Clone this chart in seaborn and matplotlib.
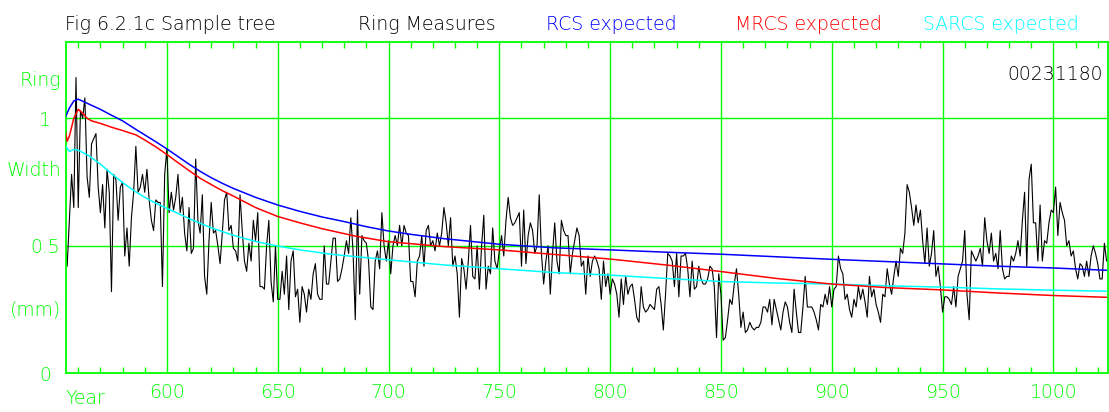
import numpy as np
import pandas as pd
import matplotlib
matplotlib.use("Agg")
import matplotlib.pyplot as plt
from matplotlib import transforms
import seaborn as sns

# ---- data -------------------------------------------------------------
first_year = 554
ring_width = [
    0.56, 0.42, 0.60, 0.78, 0.65, 1.16,
    0.65, 1.03, 1.00, 1.08, 0.77, 0.69, 0.90, 0.92, 0.94, 0.73,
    0.63, 0.74, 0.57, 0.80, 0.71, 0.32, 0.78, 0.76, 0.60, 0.73,
    0.75, 0.46, 0.57, 0.42, 0.61, 0.71, 0.89, 0.71, 0.73, 0.78,
    0.71, 0.80, 0.68, 0.60, 0.56, 0.68, 0.67, 0.67, 0.34, 0.78,
    0.88, 0.63, 0.71, 0.64, 0.69, 0.78, 0.63, 0.69, 0.55, 0.48,
    0.65, 0.47, 0.49, 0.84, 0.60, 0.55, 0.70, 0.38, 0.31, 0.52,
    0.67, 0.55, 0.56, 0.50, 0.43, 0.55, 0.68, 0.71, 0.56, 0.58,
    0.49, 0.48, 0.44, 0.70, 0.56, 0.44, 0.40, 0.51, 0.44, 0.60,
    0.52, 0.63, 0.34, 0.34, 0.33, 0.50, 0.60, 0.36, 0.28, 0.50,
    0.29, 0.29, 0.40, 0.31, 0.46, 0.25, 0.44, 0.48, 0.30, 0.33,
    0.20, 0.34, 0.31, 0.24, 0.33, 0.29, 0.39, 0.43, 0.31, 0.29,
    0.29, 0.50, 0.35, 0.35, 0.44, 0.53, 0.53, 0.36, 0.37, 0.41,
    0.46, 0.52, 0.47, 0.61, 0.48, 0.21, 0.64, 0.31, 0.54, 0.52,
    0.51, 0.44, 0.26, 0.25, 0.44, 0.48, 0.41, 0.63, 0.50, 0.44,
    0.52, 0.39, 0.50, 0.54, 0.50, 0.58, 0.50, 0.58, 0.55, 0.54,
    0.36, 0.36, 0.30, 0.44, 0.46, 0.54, 0.42, 0.56, 0.58, 0.50,
    0.52, 0.48, 0.55, 0.50, 0.55, 0.65, 0.59, 0.50, 0.61, 0.42,
    0.46, 0.39, 0.22, 0.45, 0.41, 0.33, 0.44, 0.58, 0.38, 0.37,
    0.50, 0.33, 0.50, 0.62, 0.33, 0.42, 0.39, 0.57, 0.44, 0.41,
    0.48, 0.54, 0.46, 0.60, 0.69, 0.61, 0.58, 0.59, 0.61, 0.63,
    0.42, 0.64, 0.43, 0.54, 0.59, 0.56, 0.47, 0.50, 0.70, 0.47,
    0.35, 0.44, 0.50, 0.31, 0.47, 0.59, 0.44, 0.39, 0.60, 0.56,
    0.54, 0.54, 0.39, 0.47, 0.52, 0.57, 0.54, 0.42, 0.44, 0.31,
    0.46, 0.38, 0.44, 0.46, 0.44, 0.41, 0.29, 0.44, 0.34, 0.39,
    0.31, 0.37, 0.35, 0.31, 0.22, 0.37, 0.27, 0.38, 0.31, 0.34,
    0.35, 0.29, 0.22, 0.20, 0.34, 0.26, 0.24, 0.25, 0.27, 0.26,
    0.25, 0.33, 0.34, 0.27, 0.17, 0.31, 0.47, 0.46, 0.44, 0.34,
    0.47, 0.30, 0.46, 0.46, 0.47, 0.41, 0.30, 0.44, 0.33, 0.34,
    0.42, 0.37, 0.35, 0.35, 0.37, 0.42, 0.41, 0.34, 0.14, 0.39,
    0.31, 0.13, 0.14, 0.21, 0.29, 0.27, 0.35, 0.41, 0.31, 0.18,
    0.24, 0.16, 0.17, 0.20, 0.18, 0.17, 0.18, 0.18, 0.20, 0.26,
    0.26, 0.24, 0.29, 0.19, 0.29, 0.25, 0.21, 0.17, 0.24, 0.28,
    0.26, 0.20, 0.16, 0.33, 0.24, 0.16, 0.16, 0.26, 0.38, 0.26,
    0.26, 0.26, 0.24, 0.21, 0.17, 0.27, 0.26, 0.31, 0.27, 0.34,
    0.26, 0.33, 0.34, 0.46, 0.41, 0.39, 0.29, 0.31, 0.25, 0.22,
    0.29, 0.26, 0.34, 0.29, 0.33, 0.28, 0.22, 0.38, 0.30, 0.33,
    0.27, 0.24, 0.20, 0.31, 0.30, 0.41, 0.35, 0.31, 0.38, 0.44,
    0.38, 0.49, 0.47, 0.55, 0.74, 0.71, 0.65, 0.58, 0.66, 0.59,
    0.64, 0.52, 0.43, 0.57, 0.42, 0.47, 0.56, 0.38, 0.42, 0.34,
    0.24, 0.30, 0.30, 0.29, 0.27, 0.34, 0.26, 0.38, 0.41, 0.44,
    0.56, 0.31, 0.21, 0.48, 0.46, 0.44, 0.46, 0.49, 0.42, 0.61,
    0.52, 0.47, 0.55, 0.44, 0.47, 0.41, 0.56, 0.41, 0.37, 0.38,
    0.38, 0.46, 0.44, 0.47, 0.52, 0.46, 0.60, 0.71, 0.42, 0.76,
    0.82, 0.59, 0.59, 0.44, 0.66, 0.44, 0.52, 0.51, 0.59, 0.64,
    0.63, 0.73, 0.54, 0.67, 0.63, 0.60, 0.50, 0.52, 0.46, 0.48,
    0.41, 0.37, 0.43, 0.42, 0.38, 0.44, 0.38, 0.46, 0.50, 0.47,
    0.43, 0.37, 0.37, 0.51, 0.44,
]
years = np.arange(first_year, first_year + len(ring_width))

# expected growth curves (regional curve standardisation variants)
rcs_years = [554, 556, 558, 560, 565, 570, 575, 580, 585, 590, 595, 600, 605,
             610, 615, 620, 625, 630, 640, 650, 660, 670, 680, 690, 700, 710,
             725, 750, 775, 800, 825, 850, 875, 900, 925, 950, 975, 1000, 1024]
rcs_expected = [1.00, 1.04, 1.068, 1.075, 1.055, 1.035, 1.012, 0.99, 0.962,
                0.935, 0.908, 0.88, 0.85, 0.82, 0.792, 0.767, 0.745, 0.725,
                0.69, 0.66, 0.635, 0.613, 0.595, 0.575, 0.558, 0.545, 0.528,
                0.506, 0.492, 0.484, 0.475, 0.467, 0.457, 0.447, 0.438, 0.429,
                0.42, 0.413, 0.404]

mrcs_years = [554, 555, 556, 558, 560, 562, 564, 566, 570, 575, 580, 586, 590,
              595, 600, 605, 610, 615, 620, 625, 630, 640, 650, 660, 670, 685,
              700, 725, 750, 775, 800, 825, 850, 875, 900, 925, 950, 975, 1000,
              1024]
mrcs_expected = [0.96, 0.91, 0.93, 1.00, 1.035, 1.02, 1.00, 0.99, 0.98, 0.965,
                 0.952, 0.935, 0.915, 0.888, 0.858, 0.826, 0.795, 0.765, 0.74,
                 0.716, 0.695, 0.65, 0.615, 0.59, 0.567, 0.538, 0.516, 0.497,
                 0.484, 0.466, 0.448, 0.425, 0.399, 0.372, 0.350, 0.336, 0.327,
                 0.315, 0.305, 0.298]

sarcs_years = [554, 556, 558, 560, 565, 570, 575, 580, 585, 590, 595, 600, 605,
               610, 615, 620, 630, 640, 650, 660, 675, 700, 725, 750, 775, 800,
               825, 850, 875, 900, 925, 950, 975, 1000, 1024]
sarcs_expected = [0.895, 0.87, 0.878, 0.875, 0.852, 0.82, 0.783, 0.748, 0.717,
                  0.69, 0.667, 0.647, 0.627, 0.607, 0.588, 0.571, 0.541, 0.517,
                  0.499, 0.484, 0.466, 0.445, 0.425, 0.41, 0.395, 0.385, 0.372,
                  0.36, 0.354, 0.35, 0.343, 0.338, 0.331, 0.326, 0.322]

year_ticks = [600, 650, 700, 750, 800, 850, 900, 950, 1000]
width_ticks = [0, 0.5, 1]
width_tick_labels = ["0", "0.5", "1"]

# ---- styling ------------------------------------------------------------
sns.set_style("white")
plt.rcParams["font.family"] = ["DejaVu Sans"]
plt.rcParams["font.weight"] = 200
GREEN = "#00ff00"
FS = 13.6

W, H = 1109, 412
fig = plt.figure(figsize=(W / 100, H / 100), dpi=100)
ax = fig.add_axes([65.6 / W, 1 - 373.3 / H, (1107.7 - 65.6) / W, (373.3 - 42.3) / H])

ring_df = pd.DataFrame({"year": years, "width": ring_width})
rcs_df = pd.DataFrame({"year": rcs_years, "width": rcs_expected})
mrcs_df = pd.DataFrame({"year": mrcs_years, "width": mrcs_expected})
sarcs_df = pd.DataFrame({"year": sarcs_years, "width": sarcs_expected})

# grid first so the curves sit on top
for yr in year_ticks:
    ax.axvline(yr, color=GREEN, lw=1.0, zorder=0)
for v in [0.5, 1.0]:
    ax.axhline(v, color=GREEN, lw=1.0, zorder=0)

sns.lineplot(data=ring_df, x="year", y="width", ax=ax, color="black",
             lw=0.8, estimator=None, sort=False, zorder=2)
sns.lineplot(data=sarcs_df, x="year", y="width", ax=ax, color="#00ffff",
             lw=1.1, estimator=None, sort=False, zorder=3)
sns.lineplot(data=mrcs_df, x="year", y="width", ax=ax, color="#ff0000",
             lw=1.1, estimator=None, sort=False, zorder=3)
sns.lineplot(data=rcs_df, x="year", y="width", ax=ax, color="#0000ff",
             lw=1.1, estimator=None, sort=False, zorder=3)

ax.set_xlim(554.3, 1024.5)
ax.set_ylim(0, 1.298)
ax.set_xlabel("")
ax.set_ylabel("")

for s in ax.spines.values():
    s.set_color(GREEN)
    s.set_linewidth(1.3)

# decade ticks along top and bottom edges
ax.set_xticks(year_ticks)
ax.set_xticklabels([str(y) for y in year_ticks], color=GREEN, fontsize=FS)
ax.set_xticks(np.arange(560, 1021, 10), minor=True)
ax.tick_params(axis="x", which="major", length=0, pad=7)
ax.tick_params(axis="x", which="minor", direction="in", length=4.5,
               width=1.0, color=GREEN, top=True, bottom=True)
ax.set_yticks([])

# left-hand annotations tied to the width scale
yblend = transforms.blended_transform_factory(fig.transFigure, ax.transData)
for v, lab, xpx, ha in zip(width_ticks, width_tick_labels, [45, 60, 45],
                           ["center", "right", "center"]):
    t = transforms.offset_copy(yblend, fig=fig, y=-7.5, units="dots")
    fig.text(xpx / W, v, lab, transform=t, color=GREEN, fontsize=FS,
             ha=ha, va="baseline")

for lab, ypx in [("Ring", 86), ("Width", 176), ("(mm)", 316)]:
    fig.text(61 / W, 1 - ypx / H, lab, color=GREEN, fontsize=FS,
             ha="right", va="baseline")

fig.text(66 / W, 1 - 404 / H, "Year", color=GREEN, fontsize=FS,
         ha="left", va="baseline")

# header line
for lab, xpx, col in [("Fig 6.2.1c Sample tree", 65.4, "#000000"),
                      ("Ring Measures", 358, "#000000"),
                      ("RCS expected", 546.5, "#0000ff"),
                      ("MRCS expected", 735, "#ff0000"),
                      ("SARCS expected", 923, "#00ffff")]:
    fig.text(xpx / W, 1 - 30 / H, lab, color=col, fontsize=FS,
             ha="left", va="baseline")

fig.text(1103 / W, 1 - 80 / H, "00231180", color="#000000", fontsize=FS,
         ha="right", va="baseline")

fig.savefig("out.png", dpi=100)
